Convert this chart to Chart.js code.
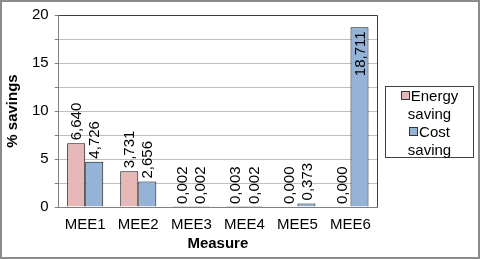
<!DOCTYPE html>
<html>
<head>
<meta charset="utf-8">
<script src="https://cdn.jsdelivr.net/npm/chart.js@4/dist/chart.umd.min.js"></script>
<style>
  html, body { margin: 0; padding: 0; background: #fff; }
  #wrap { position: relative; width: 480px; height: 259px; box-sizing: border-box; border: 2px solid #8c8c8c; }
  #c { position: absolute; left: -2px; top: -2px; }
  #legend {
    position: absolute; left: 383px; top: 84px; width: 89px; height: 72px;
    border: 1px solid #404040; font-family: "Liberation Sans", Arial, sans-serif;
    font-size: 15px; line-height: 18px; color: #000; text-align: center; box-sizing: border-box;
    padding-top: 0px;
  }
  #legend .sw { display: inline-block; width: 7px; height: 7px; border: 1px solid #333; margin-right: 1px; vertical-align: 1px; }
</style>
</head>
<body>
<div id="wrap">
  <canvas id="c" width="480" height="259"></canvas>
  <div id="legend"></div>
</div>
<script>
const measures = ['MEE1', 'MEE2', 'MEE3', 'MEE4', 'MEE5', 'MEE6'];
const energySaving = [6.640, 3.731, 0.002, 0.003, 0.000, 0.000];
const costSaving = [4.726, 2.656, 0.002, 0.002, 0.373, 18.711];
const seriesNames = [['Energy', 'saving'], ['Cost', 'saving']];
const seriesColors = ['#e6b9b8', '#95b3d7'];
const yTicks = [0, 5, 10, 15, 20];

const font = '"Liberation Sans", Arial, sans-serif';

// legend as html, two lines per item
const legend = document.querySelector('#legend');
legend.innerHTML = seriesNames.map((n, i) =>
  '<div><span class="sw" style="background:' + seriesColors[i] + '"></span>' + n[0] + '<br>' + n[1] + '</div>'
).join('');

const barLabels = {
  id: 'barLabels',
  afterDatasetsDraw(chart) {
    const ctx = chart.ctx;
    const top = chart.chartArea.top;
    ctx.save();
    ctx.font = '15px ' + font;
    ctx.fillStyle = '#000';
    chart.data.datasets.forEach((ds, di) => {
      chart.getDatasetMeta(di).data.forEach((bar, i) => {
        const txt = ds.data[i].toFixed(3).replace('.', ',');
        const w = ctx.measureText(txt).width;
        ctx.save();
        ctx.translate(bar.x + 1, bar.y);
        ctx.rotate(-Math.PI / 2);
        ctx.textBaseline = 'middle';
        if (bar.y - w - 4 < top) {
          ctx.textAlign = 'right';
          ctx.fillText(txt, -4, 0);
        } else {
          ctx.textAlign = 'left';
          ctx.fillText(txt, 3, 0);
        }
        ctx.restore();
      });
    });
    ctx.restore();
  }
};

new Chart(document.querySelector('#c').getContext('2d'), {
  type: 'bar',
  data: {
    labels: measures,
    datasets: [
      { label: 'Energy saving', data: energySaving, backgroundColor: seriesColors[0], borderColor: '#111', borderWidth: 1 },
      { label: 'Cost saving', data: costSaving, backgroundColor: seriesColors[1], borderColor: '#111', borderWidth: 1 }
    ]
  },
  options: {
    responsive: false,
    animation: false,
    layout: { padding: { left: 0, right: 103, top: 15, bottom: 6 } },
    plugins: { legend: { display: false }, tooltip: { enabled: false } },
    datasets: { bar: { categoryPercentage: 0.68, barPercentage: 1 } },
    scales: {
      x: {
        grid: { display: false, drawOnChartArea: false },
        border: { color: '#808080' },
        ticks: { color: '#000', font: { family: font, size: 15 }, padding: 1 },
        title: { display: true, text: 'Measure', color: '#000', font: { family: font, size: 15, weight: 'bold' }, padding: { top: 0, bottom: 0 } }
      },
      y: {
        min: 0, max: 20,
        afterBuildTicks: axis => {
          const t = [];
          for (let v = 0; v <= 20; v += 2.5) t.push({ value: v });
          axis.ticks = t;
        },
        grid: { color: '#c0c0c0', tickLength: 4, tickColor: '#808080' },
        border: { color: '#808080' },
        ticks: {
          color: '#000', font: { family: font, size: 15 }, padding: 6,
          callback: v => yTicks.includes(v) ? v : ''
        },
        title: { display: true, text: '% savings', color: '#000', font: { family: font, size: 15, weight: 'bold' }, padding: { bottom: 4 } }
      }
    }
  },
  plugins: [barLabels, {
    id: 'frame',
    afterDraw(chart) {
      const a = chart.chartArea, ctx = chart.ctx;
      ctx.save();
      ctx.strokeStyle = '#404040';
      ctx.lineWidth = 1;
      ctx.beginPath();
      ctx.moveTo(a.left, a.top + 0.5);
      ctx.lineTo(a.right + 0.5, a.top + 0.5);
      ctx.lineTo(a.right + 0.5, a.bottom);
      ctx.stroke();
      ctx.restore();
    }
  }]
});
</script>
</body>
</html>
